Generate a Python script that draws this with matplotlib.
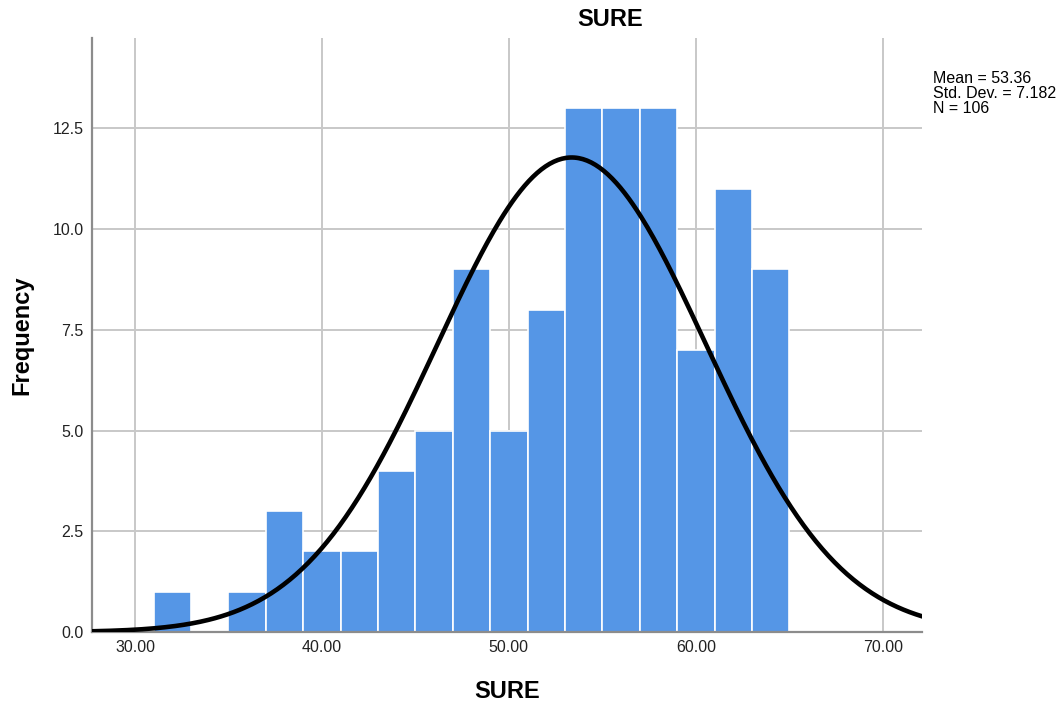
import numpy as np
import matplotlib.pyplot as plt

plt.rcParams['font.family'] = ['Liberation Sans', 'DejaVu Sans']

# histogram bins (width 2) and counts
bin_edges = [31, 33, 35, 37, 39, 41, 43, 45, 47, 49, 51, 53, 55, 57, 59, 61, 63, 65]
counts = [1, 0, 1, 3, 2, 2, 4, 5, 9, 5, 8, 13, 13, 13, 7, 11, 9]
mean = 53.36
std = 7.182
n = 106

xticks = [30, 40, 50, 60, 70]
yticks = [0.0, 2.5, 5.0, 7.5, 10.0, 12.5]

fig = plt.figure(figsize=(10.61, 7.11), dpi=100)
ax = fig.add_axes([0.0867, 0.111, 0.7823, 0.8355])

lefts = np.array(bin_edges[:-1])
widths = np.diff(bin_edges)
ax.bar(lefts, counts, width=widths, align='edge', color='#5596e6',
       edgecolor='white', linewidth=1.2, zorder=2)

# normal curve scaled to the histogram
xs = np.linspace(27.7, 72.1, 400)
pdf = np.exp(-0.5 * ((xs - mean) / std) ** 2) / (std * np.sqrt(2 * np.pi))
ax.plot(xs, n * 2 * pdf, color='black', linewidth=3.3, zorder=3)

ax.set_xlim(27.7, 72.1)
ax.set_ylim(0, 14.74)
ax.set_xticks(xticks)
ax.set_xticklabels([f"{v:.2f}" for v in xticks])
ax.set_yticks(yticks)
ax.set_yticklabels([f"{v:.1f}" for v in yticks])
ax.tick_params(length=0, labelsize=11.5, colors='#222222', pad=6)

ax.grid(True, color='#c8c8c8', linewidth=1.4, zorder=0)
ax.set_axisbelow(True)
for side in ['top', 'right']:
    ax.spines[side].set_visible(False)
for side in ['left', 'bottom']:
    ax.spines[side].set_color('#8c8c8c')
    ax.spines[side].set_linewidth(1.6)

fig.text(0.575, 0.973, 'SURE', fontsize=17, fontweight='bold', ha='center', va='center')
ax.set_xlabel('SURE', fontsize=17, fontweight='bold', labelpad=18)
ax.set_ylabel('Frequency', fontsize=17, fontweight='bold', labelpad=14)

fig.text(0.879, 0.9, f"Mean = {mean:.2f}\nStd. Dev. = {std:.3f}\nN = {n}",
         fontsize=11.5, va='top', ha='left', linespacing=1.0)

fig.savefig('out.png', dpi=100)
